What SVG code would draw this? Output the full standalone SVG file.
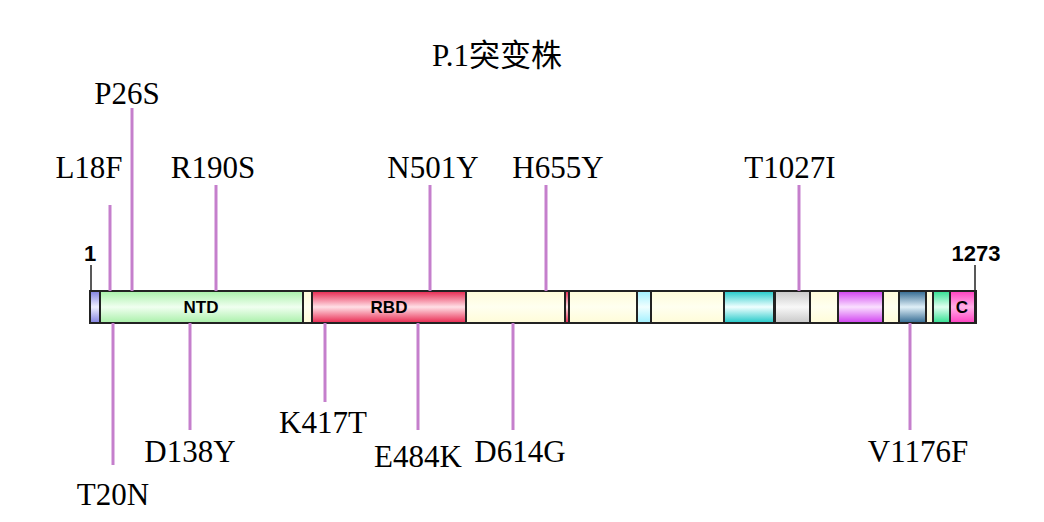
<svg xmlns="http://www.w3.org/2000/svg" width="1044" height="522" viewBox="0 0 1044 522">
<style>
.t{font-family:"Liberation Serif","Noto Sans CJK SC",serif;font-size:31px;text-anchor:middle;fill:#000}
.n{font-family:"Liberation Sans",sans-serif;font-weight:bold;font-size:22px;text-anchor:middle}
.d{font-family:"Liberation Sans",sans-serif;font-weight:bold;font-size:17px;text-anchor:middle}
.s rect{stroke:#222;stroke-width:2}
.c line{stroke:#c57fcc;stroke-width:3}
</style>
<defs>
<linearGradient id="gc" x1="0" y1="0" x2="0" y2="1"><stop offset="0" stop-color="#fffcd8"/><stop offset=".5" stop-color="#fffff0"/><stop offset="1" stop-color="#fffcd8"/></linearGradient>
<linearGradient id="gg" x1="0" y1="0" x2="0" y2="1"><stop offset="0" stop-color="#a8f0a8"/><stop offset=".5" stop-color="#f0fff0"/><stop offset="1" stop-color="#a8f0a8"/></linearGradient>
<linearGradient id="gr" x1="0" y1="0" x2="0" y2="1"><stop offset="0" stop-color="#e8264e"/><stop offset=".5" stop-color="#ffe0e6"/><stop offset="1" stop-color="#e8264e"/></linearGradient>
<linearGradient id="gb" x1="0" y1="0" x2="0" y2="1"><stop offset="0" stop-color="#8080e0"/><stop offset=".5" stop-color="#f0f0ff"/><stop offset="1" stop-color="#8080e0"/></linearGradient>
<linearGradient id="glc" x1="0" y1="0" x2="0" y2="1"><stop offset="0" stop-color="#a0f0ff"/><stop offset=".5" stop-color="#f0ffff"/><stop offset="1" stop-color="#a0f0ff"/></linearGradient>
<linearGradient id="gcy" x1="0" y1="0" x2="0" y2="1"><stop offset="0" stop-color="#20c8c8"/><stop offset=".5" stop-color="#f0ffff"/><stop offset="1" stop-color="#20c8c8"/></linearGradient>
<linearGradient id="ggr" x1="0" y1="0" x2="0" y2="1"><stop offset="0" stop-color="#c8c8c8"/><stop offset=".5" stop-color="#f8f8f8"/><stop offset="1" stop-color="#c8c8c8"/></linearGradient>
<linearGradient id="gm" x1="0" y1="0" x2="0" y2="1"><stop offset="0" stop-color="#d040f0"/><stop offset=".5" stop-color="#fae0ff"/><stop offset="1" stop-color="#d040f0"/></linearGradient>
<linearGradient id="gs" x1="0" y1="0" x2="0" y2="1"><stop offset="0" stop-color="#306890"/><stop offset=".5" stop-color="#e0f0f8"/><stop offset="1" stop-color="#306890"/></linearGradient>
<linearGradient id="gt" x1="0" y1="0" x2="0" y2="1"><stop offset="0" stop-color="#30e090"/><stop offset=".5" stop-color="#e0fff0"/><stop offset="1" stop-color="#30e090"/></linearGradient>
<linearGradient id="gp" x1="0" y1="0" x2="0" y2="1"><stop offset="0" stop-color="#ff40c0"/><stop offset=".5" stop-color="#ffb0e8"/><stop offset="1" stop-color="#ff40c0"/></linearGradient>
</defs>
<rect width="1044" height="522" fill="#fff"/>
<text class="t" x="497" y="66">P.1突变株</text>
<g id="bar" class="s">
<rect x="90" y="291" width="886" height="32" fill="url(#gc)"/>
<rect x="90" y="291" width="10" height="32" fill="url(#gb)"/>
<rect x="100" y="291" width="203" height="32" fill="url(#gg)"/>
<rect x="312" y="291" width="154" height="32" fill="url(#gr)"/>
<rect x="565" y="291" width="4" height="32" fill="url(#gr)"/>
<rect x="637" y="291" width="14" height="32" fill="url(#glc)"/>
<rect x="724" y="291" width="50" height="32" fill="url(#gcy)"/>
<rect x="775" y="291" width="35" height="32" fill="url(#ggr)"/>
<rect x="838" y="291" width="45" height="32" fill="url(#gm)"/>
<rect x="899" y="291" width="27" height="32" fill="url(#gs)"/>
<rect x="933" y="291" width="17" height="32" fill="url(#gt)"/>
<rect x="950" y="291" width="25" height="32" fill="url(#gp)"/>
<text class="d" x="201" y="313">NTD</text>
<text class="d" x="389" y="313">RBD</text>
<text class="d" x="962" y="313">C</text>
</g>
<g id="ends">
<line x1="91" y1="265" x2="91" y2="291" stroke="#222" stroke-width="1.5"/>
<line x1="975" y1="265" x2="975" y2="291" stroke="#222" stroke-width="1.5"/>
<text class="n" x="90" y="261">1</text>
<text class="n" x="976" y="261">1273</text>
</g>
<g id="connectors" class="c">
<line x1="110" y1="205" x2="110" y2="291"/>
<line x1="132" y1="108" x2="132" y2="291"/>
<line x1="216" y1="185" x2="216" y2="291"/>
<line x1="430" y1="185" x2="430" y2="291"/>
<line x1="546" y1="185" x2="546" y2="291"/>
<line x1="799" y1="185" x2="799" y2="291"/>
<line x1="113" y1="323" x2="113" y2="465"/>
<line x1="190" y1="323" x2="190" y2="430"/>
<line x1="325" y1="323" x2="325" y2="402"/>
<line x1="418" y1="323" x2="418" y2="430"/>
<line x1="513" y1="323" x2="513" y2="430"/>
<line x1="910" y1="323" x2="910" y2="430"/>
</g>
<g id="labels">
<text class="t" x="89" y="178">L18F</text>
<text class="t" x="127" y="104">P26S</text>
<text class="t" x="213" y="178">R190S</text>
<text class="t" x="433" y="178">N501Y</text>
<text class="t" x="558" y="178">H655Y</text>
<text class="t" x="790" y="178">T1027I</text>
<text class="t" x="113" y="505">T20N</text>
<text class="t" x="190" y="462">D138Y</text>
<text class="t" x="323" y="433">K417T</text>
<text class="t" x="418" y="467">E484K</text>
<text class="t" x="520" y="462">D614G</text>
<text class="t" x="918" y="462">V1176F</text>
</g>
</svg>
